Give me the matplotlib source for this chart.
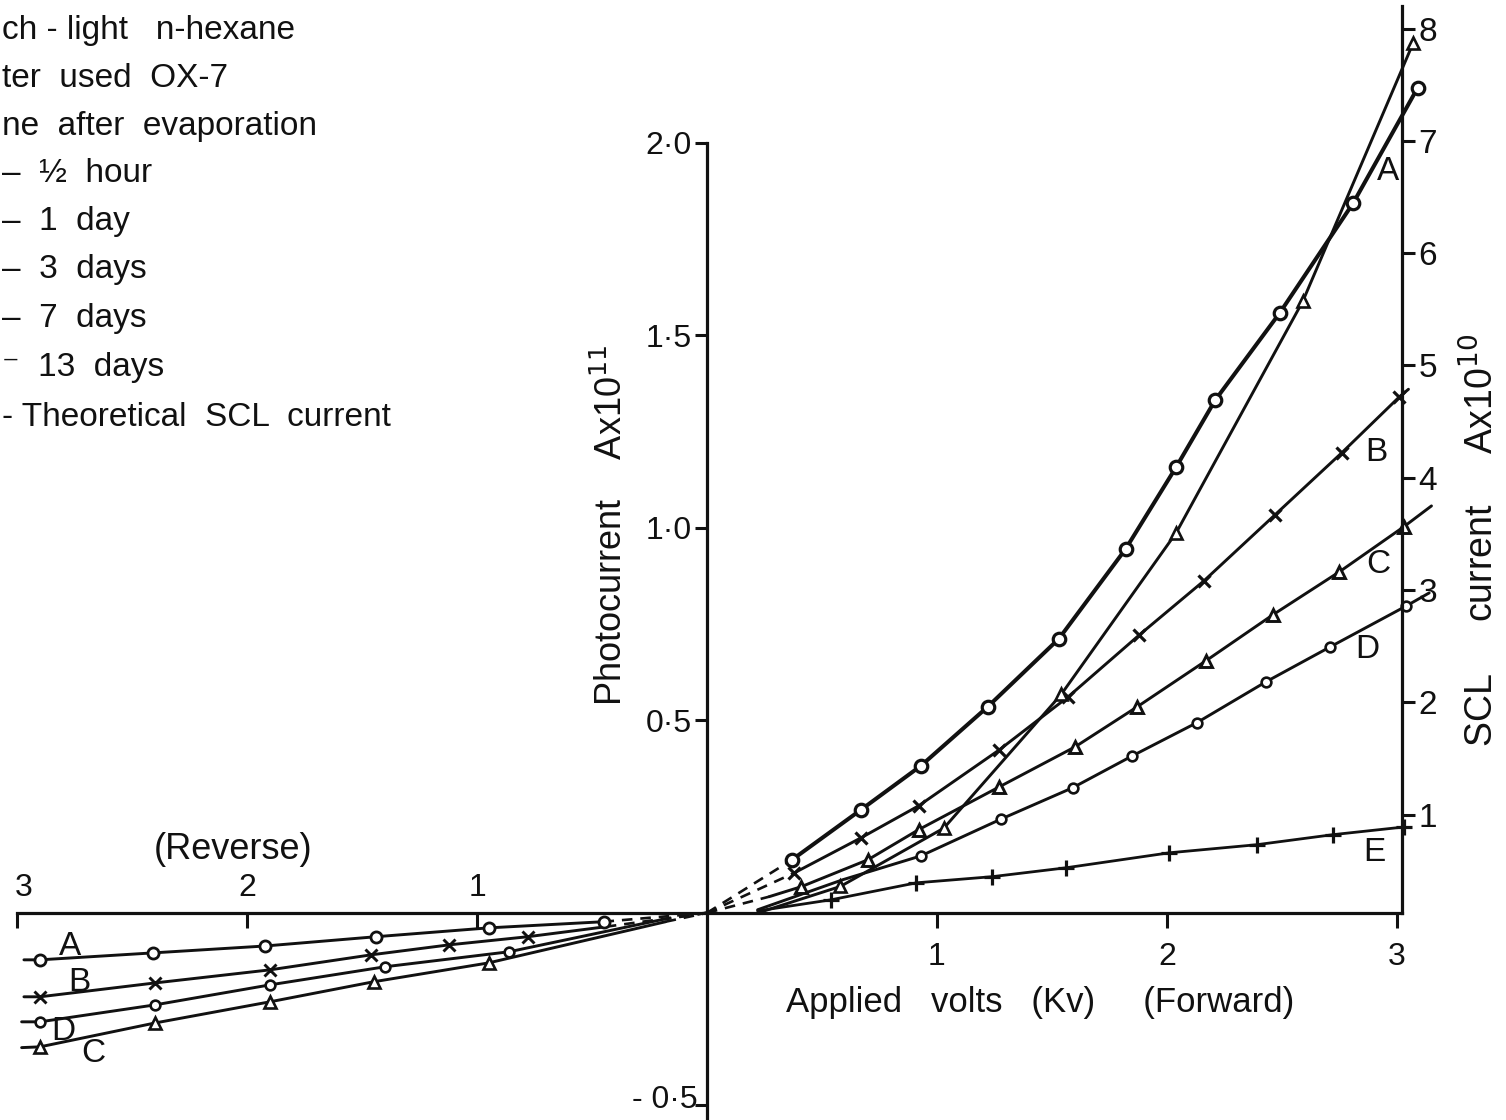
import matplotlib.pyplot as plt
import matplotlib.ticker as mticker


plt.rcParams['font.family'] = ['Liberation Sans', 'DejaVu Sans']

FIGSIZE = (15.06, 11.2)
DPI = 100
INK = '#111111'

X_LIMITS = (-3.074, 3.474)
Y_LIMITS = (-0.538, 2.371)
SCL_LIMITS = (-1.72, 8.255)
SCL_AXIS_AT = 3.02

ORIGIN = (0.0, 0.0)

# forward bias: applied kV vs photocurrent (A x 1e11)
FWD_A_V = [0.37, 0.67, 0.93, 1.22, 1.53, 1.82, 2.04, 2.21, 2.49, 2.81, 3.09]
FWD_A_I = [0.138, 0.268, 0.382, 0.535, 0.712, 0.945, 1.158, 1.332, 1.558, 1.844, 2.143]

FWD_B_V = [0.38, 0.67, 0.92, 1.27, 1.57, 1.88, 2.16, 2.47, 2.76, 3.01]
FWD_B_I = [0.104, 0.195, 0.278, 0.423, 0.561, 0.722, 0.862, 1.034, 1.195, 1.340]
FWD_B_END = (3.05, 1.36)

FWD_C_V = [0.41, 0.70, 0.92, 1.27, 1.60, 1.87, 2.17, 2.46, 2.75, 3.03]
FWD_C_I = [0.068, 0.138, 0.216, 0.327, 0.431, 0.535, 0.655, 0.774, 0.886, 1.003]
FWD_C_START = (0.27, 0.042)
FWD_C_END = (3.15, 1.057)

FWD_D_V = [0.93, 1.28, 1.59, 1.85, 2.13, 2.43, 2.71, 3.04]
FWD_D_I = [0.148, 0.244, 0.325, 0.408, 0.494, 0.600, 0.691, 0.797]
FWD_D_START = [(0.22, 0.008), (0.59, 0.086)]
FWD_D_END = (3.14, 0.831)

FWD_E_V = [0.54, 0.91, 1.24, 1.56, 2.01, 2.39, 2.72, 3.03]
FWD_E_I = [0.034, 0.078, 0.094, 0.117, 0.156, 0.177, 0.203, 0.223]
FWD_E_START = (0.22, 0.005)

# theoretical SCL current, right hand scale (A x 1e10)
SCL_V = [0.58, 1.03, 1.54, 2.04, 2.59, 3.07]
SCL_I = [0.36, 0.88, 2.07, 3.51, 5.57, 7.87]
SCL_START = (0.23, 0.13)

# reverse bias (negative kV)
REV_A_V = [-2.90, -2.41, -1.92, -1.44, -0.95, -0.45]
REV_A_I = [-0.122, -0.104, -0.086, -0.062, -0.039, -0.023]
REV_A_START = (-2.97, -0.122)

REV_B_V = [-2.90, -2.40, -1.90, -1.46, -1.12, -0.78]
REV_B_I = [-0.218, -0.182, -0.148, -0.109, -0.083, -0.062]
REV_B_START = (-2.97, -0.218)
REV_B_END = (-0.44, -0.036)

REV_D_V = [-2.90, -2.40, -1.90, -1.40, -0.86]
REV_D_I = [-0.283, -0.239, -0.187, -0.140, -0.101]
REV_D_START = (-2.98, -0.283)
REV_D_END = (-0.20, -0.018)

REV_C_V = [-2.90, -2.40, -1.90, -1.45, -0.95]
REV_C_I = [-0.348, -0.286, -0.231, -0.179, -0.130]
REV_C_START = (-2.98, -0.350)
REV_C_END = (-0.18, -0.023)

LEFT_TICKS = [-0.5, 0.5, 1.0, 1.5, 2.0]
LEFT_LABELS = ['', '0·5', '1·0', '1·5', '2·0']
RIGHT_TICKS = [1, 2, 3, 4, 5, 6, 7, 8]
X_TICKS = [-3, -2, -1, 1, 2, 3]
X_LABELS = ['', '', '', '1', '2', '3']
REVERSE_LABELS = ['3', '2', '1']

LEGEND_LINES = [
    'ch - light   n-hexane',
    'ter  used  OX-7',
    'ne  after  evaporation',
    '–  ½  hour',
    '–  1  day',
    '–  3  days',
    '–  7  days',
    '⁻  13  days',
    '- Theoretical  SCL  current',
]


def join(start, vs, cs, end):
    pts = list(start) + list(zip(vs, cs)) + list(end)
    return [p[0] for p in pts], [p[1] for p in pts]


def draw(ax, vs, cs, marker, ms, mew, lw, start=(), end=()):
    lv, li = join(start, vs, cs, end)
    ax.plot(lv, li, color=INK, lw=lw, solid_capstyle='round', zorder=2)
    ax.plot(vs, cs, ls='none', marker=marker, ms=ms, mew=mew,
            mfc='white', mec=INK, zorder=3)


def dash(ax, p0, p1, lw=1.9):
    ax.plot([p0[0], p1[0]], [p0[1], p1[1]], color=INK, lw=lw,
            ls=(0, (4, 3)), zorder=2)


def style_axes(ax, ax2) -> None:
    ax.set(xlim=X_LIMITS, ylim=Y_LIMITS)
    ax2.set_ylim(SCL_LIMITS)

    for name in ('top', 'right'):
        ax.spines[name].set_visible(False)
    for name in ('top', 'left', 'bottom'):
        ax2.spines[name].set_visible(False)

    ax.spines['left'].set_position(('data', 0))
    ax.spines['bottom'].set_position(('data', 0))
    ax.spines['left'].set_bounds(-0.54, 2.0)
    ax.spines['bottom'].set_bounds(-3.0, SCL_AXIS_AT)
    ax2.spines['right'].set_position(('data', SCL_AXIS_AT))
    ax2.spines['right'].set_bounds(0.125, 8.2)
    for sp in (ax.spines['left'], ax.spines['bottom'], ax2.spines['right']):
        sp.set_linewidth(2.3)
        sp.set_color(INK)

    ax.yaxis.set_major_locator(mticker.FixedLocator(LEFT_TICKS))
    ax.set_yticklabels(LEFT_LABELS)
    ax.xaxis.set_major_locator(mticker.FixedLocator(X_TICKS))
    ax.set_xticklabels(X_LABELS)
    ax2.yaxis.set_major_locator(mticker.FixedLocator(RIGHT_TICKS))
    ax2.set_yticklabels([str(t) for t in RIGHT_TICKS])

    ax.tick_params(axis='y', direction='out', length=9, width=2.2,
                   labelsize=23, pad=2, colors=INK)
    ax.tick_params(axis='x', direction='out', length=11, width=2.2,
                   labelsize=23, pad=10, colors=INK)
    ax2.tick_params(axis='y', direction='out', length=9, width=2.2,
                    labelsize=24, pad=3, colors=INK)


def main() -> None:
    fig = plt.figure(figsize=FIGSIZE, dpi=DPI)
    ax = fig.add_axes([0, 0, 1, 1])
    ax2 = ax.twinx()
    style_axes(ax, ax2)

    # forward
    dash(ax, ORIGIN, (FWD_A_V[0], FWD_A_I[0]))
    dash(ax, ORIGIN, (FWD_B_V[0], FWD_B_I[0]))
    dash(ax, ORIGIN, FWD_C_START)
    draw(ax, FWD_A_V, FWD_A_I, 'o', 9, 2.3, 2.9)
    draw(ax, FWD_B_V, FWD_B_I, 'x', 9, 2.3, 2.1, end=[FWD_B_END])
    draw(ax, FWD_C_V, FWD_C_I, '^', 9, 2.1, 2.1,
         start=[FWD_C_START], end=[FWD_C_END])
    draw(ax, FWD_D_V, FWD_D_I, 'o', 7, 1.9, 2.1,
         start=FWD_D_START, end=[FWD_D_END])
    draw(ax, FWD_E_V, FWD_E_I, '+', 11, 2.3, 2.0, start=[FWD_E_START])
    draw(ax2, SCL_V, SCL_I, '^', 9, 1.9, 2.1, start=[SCL_START])

    # reverse
    draw(ax, REV_A_V, REV_A_I, 'o', 8, 2.0, 2.1, start=[REV_A_START])
    draw(ax, REV_B_V, REV_B_I, 'x', 8, 2.1, 2.1,
         start=[REV_B_START], end=[REV_B_END])
    draw(ax, REV_D_V, REV_D_I, 'o', 7, 1.9, 2.1,
         start=[REV_D_START], end=[REV_D_END])
    draw(ax, REV_C_V, REV_C_I, '^', 8, 1.9, 2.1,
         start=[REV_C_START], end=[REV_C_END])
    dash(ax, (REV_A_V[-1], REV_A_I[-1]), ORIGIN)
    dash(ax, REV_B_END, ORIGIN)
    dash(ax, REV_D_END, ORIGIN)
    dash(ax, REV_C_END, ORIGIN)

    text_kw = {'fontsize': 24, 'color': INK, 'ha': 'center', 'va': 'center'}
    for name, v, i in (('A', 2.96, 1.925), ('B', 2.91, 1.197),
                       ('C', 2.92, 0.904), ('D', 2.87, 0.683),
                       ('E', 2.90, 0.158), ('A', -2.77, -0.088),
                       ('B', -2.73, -0.182), ('D', -2.80, -0.309),
                       ('C', -2.67, -0.364)):
        ax.text(v, i, name, **text_kw)

    for label, v in zip(REVERSE_LABELS, (-2.97, -2.0, -1.0)):
        ax.text(v, 0.065, label, **{**text_kw, 'fontsize': 23})

    ax.text(-0.04, -0.486, '- 0·5', fontsize=23, color=INK,
            ha='right', va='center')

    ax.text(-2.06, 0.164, '(Reverse)', **{**text_kw, 'fontsize': 26})
    ax.text(1.448, -0.234, 'Applied   volts   (Kv)     (Forward)',
            **{**text_kw, 'fontsize': 25})

    ax.text(0.406, 0.531, 'Photocurrent    Ax10$^{11}$', rotation=90,
            transform=ax.transAxes, **{**text_kw, 'fontsize': 26})
    ax.text(0.984, 0.518, 'SCL     current     Ax10$^{10}$', rotation=90,
            transform=ax.transAxes, **{**text_kw, 'fontsize': 27})

    legend_y = [0.973, 0.930, 0.8875, 0.845, 0.802, 0.759, 0.716, 0.672, 0.627]
    for line, y in zip(LEGEND_LINES, legend_y):
        ax.text(0.001, y, line, transform=ax.transAxes, fontsize=24,
                color=INK, ha='left', va='center')

    fig.savefig('out.png', dpi=DPI, facecolor='white')


if __name__ == '__main__':
    main()
